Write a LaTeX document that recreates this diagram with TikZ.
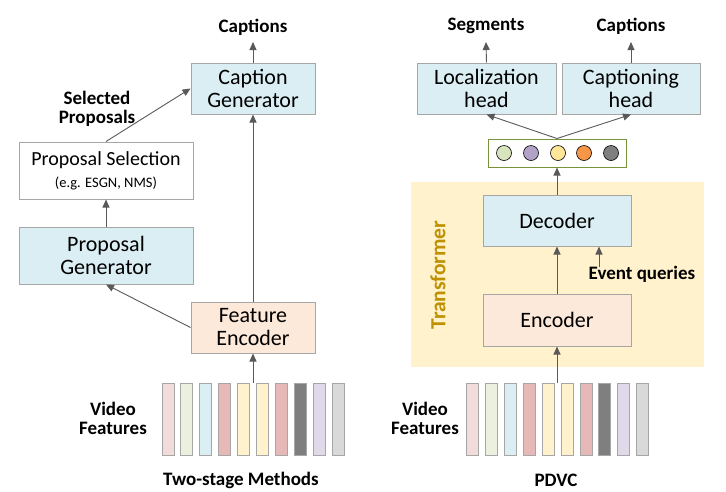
\documentclass[tikz,border=0pt]{standalone}
\usepackage{fontspec}
\setmainfont{Carlito}
\usetikzlibrary{arrows.meta}
\definecolor{boxgray}{HTML}{A6A6A6}
\definecolor{arrgray}{HTML}{595959}
\definecolor{lblue}{HTML}{DAEEF3}
\definecolor{lpeach}{HTML}{FDE9D9}
\definecolor{tyellow}{HTML}{FFF2CC}
\definecolor{gold}{HTML}{BF9000}
\definecolor{qgreen}{HTML}{77933C}
\definecolor{cA}{HTML}{F2DCDB}
\definecolor{cB}{HTML}{EBF1DE}
\definecolor{cC}{HTML}{DBEEF4}
\definecolor{cD}{HTML}{E6B9B8}
\definecolor{cE}{HTML}{FFF2CC}
\definecolor{cF}{HTML}{7F7F7F}
\definecolor{cG}{HTML}{E0DAE8}
\definecolor{cH}{HTML}{D9D9D9}
\definecolor{q1}{HTML}{D7E4BD}
\definecolor{q2}{HTML}{B3A2C7}
\definecolor{q3}{HTML}{FFE699}
\definecolor{q4}{HTML}{F79646}
\definecolor{q5}{HTML}{7F7F7F}
\begin{document}
\begin{tikzpicture}[x=1pt,y=-1pt,
  box/.style={draw=boxgray, line width=1pt, inner sep=0pt, align=center,
    font=\fontsize{22}{23}\selectfont},
  arr/.style={draw=arrgray, line width=0.9pt, -{Triangle[length=8pt,width=7pt]}},
  lbl/.style={font=\fontsize{19}{19}\selectfont\bfseries, align=center, inner sep=0pt},
  bar/.style={draw=boxgray, line width=0.8pt}]
\useasboundingbox (0,0) rectangle (726,491);

% ---------- Left: two-stage ----------
\node[box, fill=lblue, minimum width=124pt, minimum height=51pt] (CG) at (253,88.5) {Caption\\Generator};
\node[box, fill=white, minimum width=174pt, minimum height=57pt, font=\fontsize{20}{23}\selectfont] (PS) at (106,170.5)
  {Proposal Selection\\[-1pt]{\fontsize{14.5}{16}\selectfont (e.g. ESGN, NMS)}};
\node[box, fill=lblue, minimum width=174pt, minimum height=57pt] (PG) at (106,255.5) {Proposal\\Generator};
\node[box, fill=lpeach, minimum width=124pt, minimum height=51pt] (FE) at (253,327.5) {Feature\\Encoder};

\node[lbl] (capL) at (253,27) {Captions};
\node[lbl] (selP) at (97,108.5) {Selected\\Proposals};
\node[lbl] (vfL) at (113,418.5) {Video\\Features};
\node[lbl] (tsm) at (241,480) {Two-stage Methods};

\foreach \x/\c [count=\i] in {162/cA,180.5/cB,199.5/cC,218.5/cD,237.5/cE,256.5/cE,275.5/cD,294.5/cF,313.5/cG,332.5/cH}
  \draw[bar, fill=\c] (\x,383) rectangle ++(12,72);

\coordinate (capLtip) at (253,42);
\coordinate (barsL) at (253,383);
\draw[arr] (CG.north) -- (capLtip);
\draw[arr] (FE.north) -- (CG.south);
\draw[arr] (PS.north) -- (CG.west);
\draw[arr] (PG.north) -- (PS.south);
\draw[arr] (FE.west) -- (PG.south);
\draw[arr] (barsL) -- (FE.south);

% ---------- Right: PDVC ----------
\fill[tyellow] (411,182) rectangle (704,367);
\node[font=\fontsize{21.5}{23}\selectfont\bfseries, text=gold, rotate=90, inner sep=0pt] (tf) at (438,275) {Transformer};

\node[box, fill=lblue, minimum width=139pt, minimum height=51pt] (LH) at (486.5,88.5) {Localization\\head};
\node[box, fill=lblue, minimum width=138pt, minimum height=51pt] (CH) at (631,88.5) {Captioning\\head};
\node[draw=qgreen, line width=1pt, fill=white, minimum width=138pt, minimum height=28pt, inner sep=0pt] (Q) at (557,153) {};
\foreach \xx/\c [count=\i] in {504/q1,531/q2,558/q3,584/q4,611/q5}
  \node[circle, draw=black, line width=0.6pt, fill=\c, minimum size=15pt, inner sep=0pt] (c\i) at (\xx,153) {};
\node[box, fill=lblue, minimum width=148pt, minimum height=51pt] (Dec) at (557,220.5) {Decoder};
\node[box, fill=lpeach, minimum width=148pt, minimum height=52pt] (Enc) at (557,320) {Encoder};

\node[lbl] (seg) at (486,26) {Segments};
\node[lbl] (capR) at (631,26) {Captions};
\node[lbl] (evq) at (642,274) {Event queries};
\node[lbl] (vfR) at (425,418.5) {Video\\Features};
\node[lbl] (pdvc) at (556,480) {PDVC};

\foreach \x/\c [count=\i] in {466/cA,485/cB,504/cC,523/cD,542/cE,561/cE,580/cD,598.5/cF,617.5/cG,636.5/cH}
  \draw[bar, fill=\c] (\x,383) rectangle ++(12,72);

\coordinate (segtip) at (486,42);
\coordinate (captip) at (631,42);
\coordinate (barsR) at (557,383);
\coordinate (evqs) at (599,267);
\draw[arr] (LH.north) -- (segtip);
\draw[arr] (CH.north) -- (captip);
\draw[arr] (Q.north) -- (LH.south);
\draw[arr] (Q.north) -- (CH.south);
\draw[arr] (Dec.north) -- (Q.south);
\draw[arr] (Enc.north) -- (Dec.south);
\draw[arr] (evqs) -- (evqs |- Dec.south);
\draw[arr] (barsR) -- (Enc.south);
\end{tikzpicture}
\end{document}
